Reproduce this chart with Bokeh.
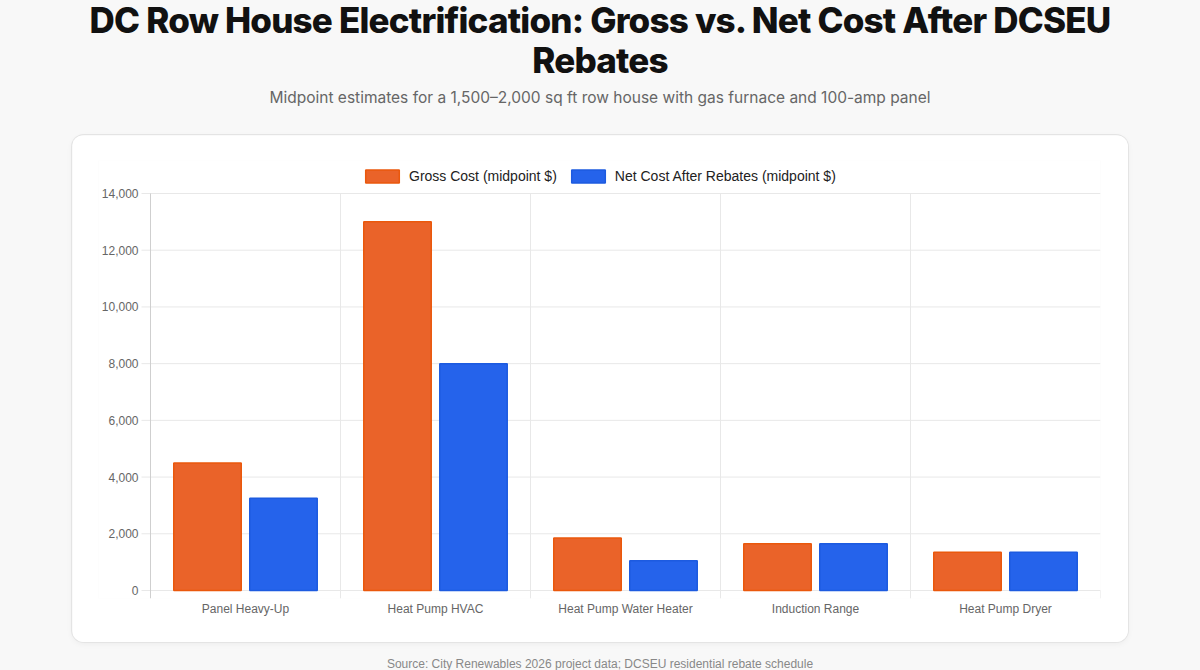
from bokeh.plotting import figure
from bokeh.models import (ColumnDataSource, Range1d, FixedTicker, Legend, LegendItem, Div)
from bokeh.core.properties import value
from bokeh.layouts import column
from bokeh.transform import dodge
from bokeh.embed import file_html
from bokeh.resources import INLINE

categories = ["Panel Heavy-Up", "Heat Pump HVAC", "Heat Pump Water Heater",
              "Induction Range", "Heat Pump Dryer"]
gross_cost = [4500, 13000, 1850, 1650, 1350]
net_cost = [3250, 8000, 1050, 1650, 1350]
y_ticks = [0, 2000, 4000, 6000, 8000, 10000, 12000, 14000]
y_labels = [f"{v:,}" for v in y_ticks]
series_names = ["Gross Cost (midpoint $)", "Net Cost After Rebates (midpoint $)"]

title_text = "DC Row House Electrification: Gross vs. Net Cost After DCSEU<br>Rebates"
subtitle_text = "Midpoint estimates for a 1,500\u20132,000 sq ft row house with gas furnace and 100-amp panel"
source_text = "Source: City Renewables 2026 project data; DCSEU residential rebate schedule"

n = len(categories)
idx = list(range(n))
src = ColumnDataSource(dict(x=idx, cat=categories, gross=gross_cost, net=net_cost))

ORANGE = "#EA6329"
ORANGE_LINE = "#EA580C"
BLUE = "#2563EB"
BLUE_LINE = "#1D5BE0"
GRID = "#e8e8e8"

Y_MAX = y_ticks[-1]
PX_X = 190.0          # pixels per category
PX_Y = 397.0 / Y_MAX  # pixels per unit
Y_LOW = -8 / PX_Y     # room under the zero line for tick stubs / "0" label

p = figure(width=1056, height=507, output_backend="svg", toolbar_location=None,
           x_range=Range1d(-0.5 - 52 / PX_X, n - 0.5),
           y_range=Range1d(Y_LOW, Y_MAX + 33 / PX_Y),
           min_border_left=26, min_border_right=28, min_border_top=25, min_border_bottom=44,
           background_fill_color="white", border_fill_color="white",
           styles={"border-radius": "12px", "overflow": "hidden",
                   "box-shadow": "0 0 0 1px #e4e4e4, 0 2px 6px rgba(0,0,0,0.05)"})
p.outline_line_color = None
p.xgrid.visible = False
p.ygrid.visible = False
p.yaxis.visible = False

# horizontal grid lines (with outward tick stubs) from the y tick list
p.segment(x0=-0.5 - 9 / PX_X, x1=n - 0.5, y0=y_ticks, y1=y_ticks, line_color=GRID, line_width=1)
# vertical category separators (with stubs below the zero line)
seps = [i + 0.5 for i in range(n)]
p.segment(x0=seps[:-1], x1=seps[:-1], y0=Y_LOW, y1=Y_MAX, line_color=GRID, line_width=1)
p.segment(x0=seps[-1:], x1=seps[-1:], y0=Y_LOW, y1=0, line_color=GRID, line_width=1)
# y axis line
p.segment(x0=[-0.5], x1=[-0.5], y0=[Y_LOW], y1=[Y_MAX], line_color="#cfcfcf", line_width=1)
# y tick labels
p.text(x=-0.5, y=y_ticks, text=y_labels, x_offset=-12, text_align="right",
       text_baseline="middle", text_font=value("Liberation Sans"),
       text_font_size="12px", text_color="#666666")

r1 = p.vbar(x=dodge("x", -0.2, range=p.x_range), top="gross", width=0.355, source=src,
            fill_color=ORANGE, line_color=ORANGE_LINE, line_width=1.5)
r2 = p.vbar(x=dodge("x", 0.2, range=p.x_range), top="net", width=0.355, source=src,
            fill_color=BLUE, line_color=BLUE_LINE, line_width=1.5)

# x axis (labels only)
p.xaxis.ticker = FixedTicker(ticks=idx)
p.xaxis.major_label_overrides = {i: c for i, c in enumerate(categories)}
p.xaxis.major_tick_line_color = None
p.xaxis.minor_tick_line_color = None
p.xaxis.major_tick_out = 0
p.xaxis.major_tick_in = 0
p.xaxis.axis_line_color = None
p.xaxis.major_label_standoff = 3
p.xaxis.major_label_text_font = "Liberation Sans"
p.xaxis.major_label_text_font_size = "12px"
p.xaxis.major_label_text_color = "#666666"

legend = Legend(items=[LegendItem(label=series_names[0], renderers=[r1]),
                       LegendItem(label=series_names[1], renderers=[r2])],
                location=(263, 414), orientation="horizontal",
                glyph_width=42, glyph_height=16, label_standoff=6, spacing=10,
                padding=0, margin=0, border_line_color=None, background_fill_alpha=0,
                label_text_font="Liberation Sans", label_text_font_size="14px",
                label_text_color="#222222")
p.add_layout(legend, "center")

title = Div(text=f'<div style="width:1200px;text-align:center;font-family:Inter;font-weight:800;'
                 f'font-size:35px;line-height:40px;color:#111;letter-spacing:-0.8px;">{title_text}</div>',
            width=1200, height=84, margin=(0, 0, 0, 0))
subtitle = Div(text=f'<div style="width:1200px;text-align:center;font-family:Inter;font-size:15.5px;'
                    f'line-height:24px;color:#666;padding-top:2px;">{subtitle_text}</div>',
               width=1200, height=51, margin=(0, 0, 0, 0))
p.margin = (0, 0, 0, 72)
source = Div(text=f'<div style="width:1200px;text-align:center;font-family:Liberation Sans;font-size:12px;'
                  f'line-height:14px;color:#888;padding-top:15px;">{source_text}</div>',
             width=1200, height=28, margin=(0, 0, 0, 0))

layout = column(title, subtitle, p, source, width=1200, height=670, spacing=0,
                styles={"background-color": "#f8f8f8"})

open("out.html", "w").write(file_html(layout, INLINE))
